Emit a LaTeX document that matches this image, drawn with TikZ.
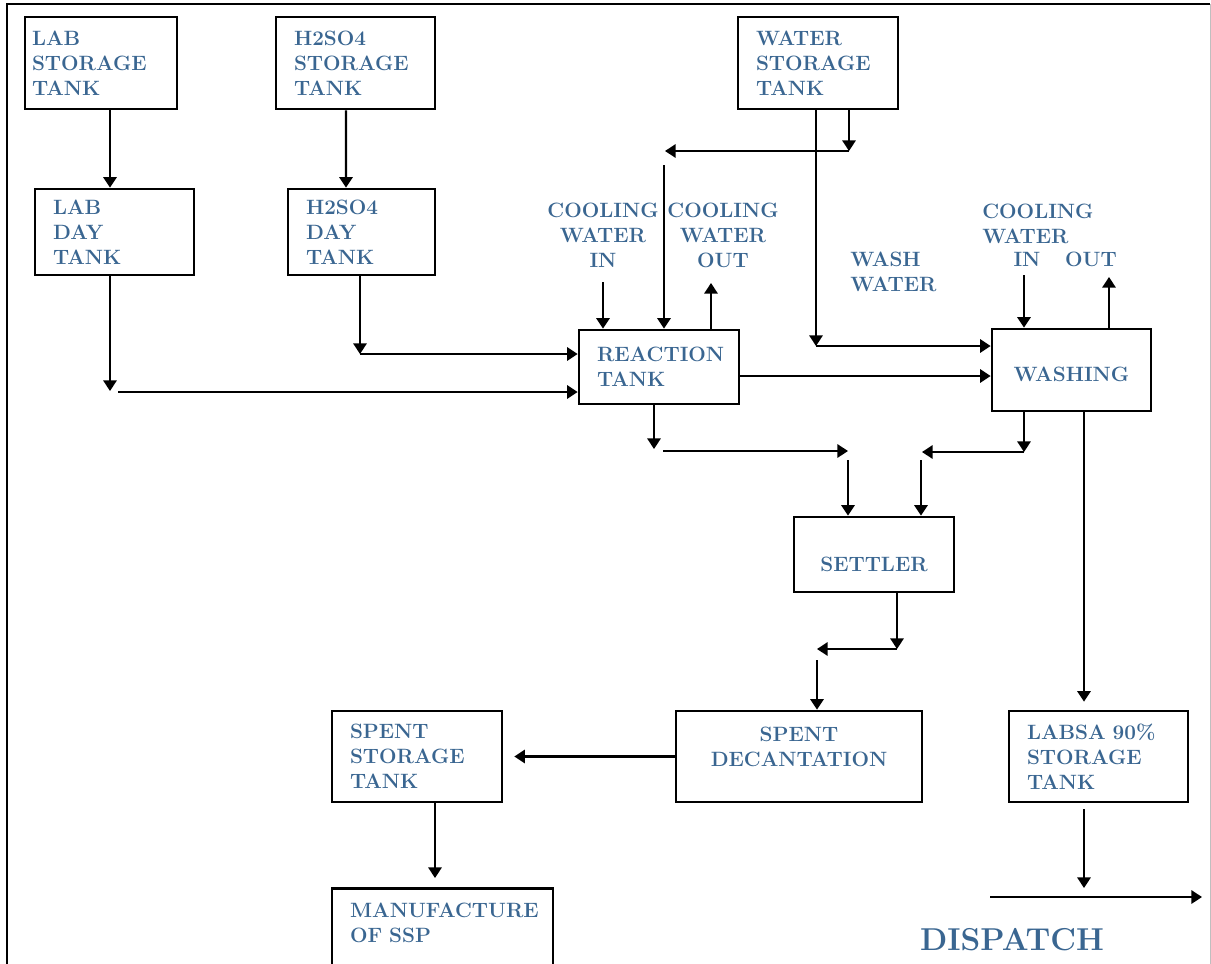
\documentclass[tikz,border=0pt]{standalone}
\usetikzlibrary{arrows.meta}
\definecolor{labelblue}{RGB}{58,102,145}

\begin{document}
\begin{tikzpicture}[x=0.02cm, y=-0.02cm,
    tank/.style={draw, line width=1.5pt, text=labelblue, align=left,
        font=\fontsize{11.8}{14.2}\selectfont\bfseries, inner xsep=0.36cm},
    tag/.style={text=labelblue, font=\fontsize{11.8}{14.2}\selectfont\bfseries, inner sep=0pt},
    flow/.style={line width=1.3pt, -{Triangle[length=6pt,width=7.5pt]}}]
    \useasboundingbox (0,0) rectangle (1211,964);
    \clip (0,0) rectangle (1211,964);
    % frame
    \draw[line width=1.3pt] (7,964) -- (7,4) -- (1210,4);
    \draw[black!25] (1210,4) -- (1210,964);

    % tanks
    \node[tank, inner xsep=0.14cm, text width=2.76cm, minimum height=1.84cm] (labst) at (101,63) {LAB\\STORAGE\\TANK};
    \node[tank, text width=2.46cm, minimum height=1.84cm] (hst) at (355.5,63) {H2SO4\\STORAGE\\TANK};
    \node[tank, text width=2.48cm, minimum height=1.84cm] (watst) at (818,63) {WATER\\STORAGE\\TANK};
    \node[tank, text width=2.46cm, minimum height=1.72cm] (labday) at (114.5,232) {LAB\\DAY\\TANK};
    \node[tank, text width=2.22cm, minimum height=1.72cm] (hday) at (361.5,232) {H2SO4\\DAY\\TANK};
    \node[tank, text width=2.48cm, minimum height=1.48cm] (react) at (659,367) {REACTION\\TANK};
    \node[tank, align=center, text width=2.46cm, minimum height=1.64cm, text height=0.48cm] (wash) at (1071.5,370) {WASHING};
    \node[tank, align=center, text width=2.48cm, minimum height=1.5cm, text height=0.68cm] (settler) at (874,554.5) {SETTLER};
    \node[tank, align=center, text width=4.2cm, minimum height=1.82cm, text depth=0.9cm] (decant) at (799,756.5) {SPENT\\DECANTATION};
    \node[tank, text width=2.68cm, minimum height=1.82cm] (spst) at (417,756.5) {SPENT\\STORAGE\\TANK};
    \node[tank, text width=2.86cm, minimum height=1.82cm] (labsa) at (1098.5,756.5) {LABSA 90\%\\STORAGE\\TANK};
    \node[tank, anchor=north, text width=3.7cm, inner ysep=0.3cm, text depth=3cm] (manuf) at (442.5,887) {MANUFACTURE\\OF SSP};

    % labels
    \node[tag, align=center] (cwin1) at (603,235) {COOLING\\WATER\\IN};
    \node[tag, align=center] (cwout1) at (723,235) {COOLING\\WATER\\OUT};
    \node[tag, align=left, anchor=west] (washw) at (850,272) {WASH\\WATER};
    \node[tag, align=left, anchor=west] (cw2) at (982,223.5) {COOLING\\WATER};
    \node[tag] (in2) at (1027,259) {IN};
    \node[tag] (out2) at (1091,259) {OUT};
    \node[tag, font=\fontsize{18}{20}\selectfont\bfseries] (dispatch) at (1012,940) {DISPATCH};

    % bend points
    \coordinate (labdown) at (110,391);
    \coordinate (labrun) at (118,392);
    \coordinate (hbend) at (360,354);
    \coordinate (wwbend) at (816,346);
    \coordinate (wrbend) at (849,151);
    \coordinate (wrend) at (665,151);
    \coordinate (wrtop) at (664,165);
    \coordinate (cwin1s) at (603,282);
    \coordinate (cwout1e) at (711,283);
    \coordinate (cwin2s) at (1024,275);
    \coordinate (cwout2e) at (1109,277);
    \coordinate (rwy) at (739,376);
    \coordinate (rbend) at (654,449);
    \coordinate (rrun) at (663,451);
    \coordinate (rend) at (848,451);
    \coordinate (rtop) at (848,460);
    \coordinate (wbend) at (1024,452);
    \coordinate (wend) at (922,452);
    \coordinate (wtop) at (921,460);
    \coordinate (sbend) at (897,649);
    \coordinate (send) at (817,649);
    \coordinate (stop) at (817,660);
    \coordinate (spcol) at (435,840);
    \coordinate (lcol) at (1084,600);
    \coordinate (lbend) at (1084,888);
    \coordinate (dstart) at (990,897);
    \coordinate (dend) at (1202,897);

    % feed lines
    \draw[flow] (labst.south -| labdown) -- (labday.north -| labdown);
    \draw[flow] ([xshift=-0.19cm]hst.south) -- ([xshift=-0.31cm]hday.north);
    \draw[flow] (labday.south -| labdown) -- (labdown);
    \draw[flow] (labrun) -- (labrun -| react.west);
    \draw[flow] (hday.south -| hbend) -- (hbend);
    \draw[flow] (hbend) -- (hbend -| react.west);

    % water
    \draw[flow] (watst.south -| wwbend) -- (wwbend);
    \draw[flow] (wwbend) -- (wwbend -| wash.west);
    \draw[flow] (watst.south -| wrbend) -- (wrbend);
    \draw[flow] (wrbend) -- (wrend);
    \draw[flow] (wrtop) -- (wrtop |- react.north);
    \draw[flow] (cwin1s) -- (cwin1s |- react.north);
    \draw[flow] (cwout1e |- react.north) -- (cwout1e);
    \draw[flow] (cwin2s) -- (cwin2s |- wash.north);
    \draw[flow] (cwout2e |- wash.north) -- (cwout2e);

    % reaction and washing
    \draw[flow] (react.east |- rwy) -- (rwy -| wash.west);
    \draw[flow] (react.south -| rbend) -- (rbend);
    \draw[flow] (rrun) -- (rend);
    \draw[flow] (rtop) -- (rtop |- settler.north);
    \draw[flow] (wash.south -| wbend) -- (wbend);
    \draw[flow] (wbend) -- (wend);
    \draw[flow] (wtop) -- (wtop |- settler.north);

    % settler and spent
    \draw[flow] (settler.south -| sbend) -- (sbend);
    \draw[flow] (sbend) -- (send);
    \draw[flow] (stop) -- (stop |- decant.north);
    \draw[flow, shorten >=0.22cm] (decant.west) -- (decant.west -| spst.east);
    \draw[flow, shorten >=0.18cm] (spst.south -| spcol) -- (spcol |- manuf.north);

    % product
    \draw[flow, shorten >=0.16cm] (wash.south -| lcol) -- (lcol |- labsa.north);
    \draw[flow, shorten <=0.12cm] (labsa.south -| lbend) -- (lbend);
    \draw[flow] (dstart) -- (dend);
\end{tikzpicture}
\end{document}
